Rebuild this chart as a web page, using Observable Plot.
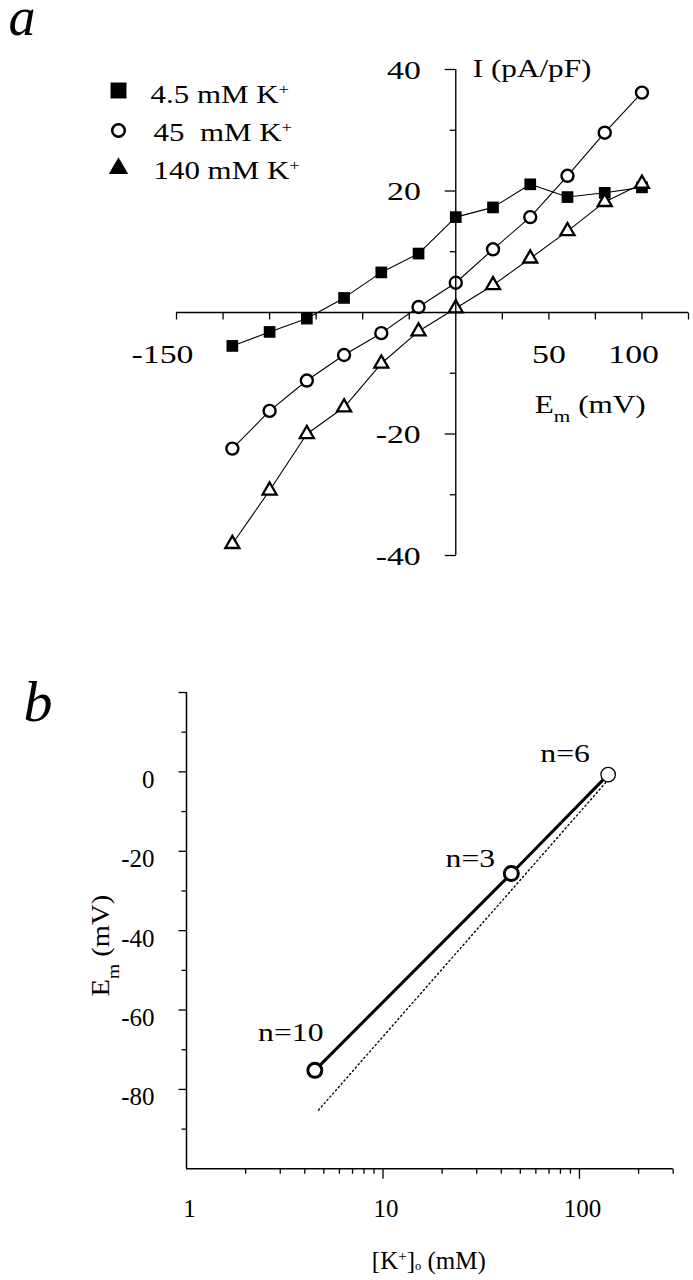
<!DOCTYPE html>
<html>
<head>
<meta charset="utf-8">
<script src="https://cdn.jsdelivr.net/npm/d3@7"></script>
<script src="https://cdn.jsdelivr.net/npm/@observablehq/plot@0.6"></script>
<style>
  html, body { margin: 0; padding: 0; background: #fff; }
  #wrap { position: relative; width: 693px; height: 1280px; overflow: hidden; background: #fff; }
  #wrap svg { position: absolute; left: 0; }
</style>
</head>
<body>
<div id="wrap"></div>
<script>
// ---------- Panel a data: I–V relations ----------
const membranePotential = [-120, -100, -80, -60, -40, -20, 0, 20, 40, 60, 80, 100];
const current4_5mM = [-5.5, -3.2, -1.0, 2.4, 6.6, 9.7, 15.7, 17.3, 21.1, 19.0, 19.7, 20.6];
const current45mM  = [-22.4, -16.2, -11.2, -7.0, -3.4, 0.9, 4.9, 10.4, 15.7, 22.5, 29.6, 36.2];
const current140mM = [-38.1, -29.3, -20.0, -15.6, -8.4, -3.1, 0.7, 4.5, 8.9, 13.4, 18.2, 21.2];
const seriesLabels = ["4.5 mM K^{+}", "45  mM K^{+}", "140 mM K^{+}"];
const xTicksA = [-150, -125, -100, -75, -50, -25, 25, 50, 75, 100, 125];
const xTickLabelsA = [-150, 50, 100];
const yMajorA = [-40, -20, 20, 40];
const yMinorA = [-30, -10, 10, 30];
const yTickLabelsA = [40, 20, -20, -40];
const xTitleA = "E_{m} (mV)";
const yTitleA = "I (pA/pF)";

// ---------- Panel b data: reversal potential vs [K+]o ----------
const kConc = [4.5, 45, 140];
const reversalEm = [-75.2, -25.6, -0.7];
const nCells = [10, 3, 6];
const nernstK = [4.7, 144];
const nernstEm = [-85.2, -1.3];
const xMajorB = [10, 100];
const xMinorB = [2, 3, 4, 5, 6, 7, 8, 9, 20, 30, 40, 50, 60, 70, 80, 90, 200, 300];
const xTickLabelsB = [1, 10, 100];
const yMajorB = [-80, -60, -40, -20, 0, 20];
const yMinorB = [-90, -70, -50, -30, -10, 10];
const yTickLabelsB = [0, -20, -40, -60, -80];
const xTitleB = "[K^{+}]~{o} (mM)";
const yTitleB = "E_{m} (mV)";

// ---------- helpers ----------
const FONT = "'Liberation Serif', 'Times New Roman', 'DejaVu Serif', serif";
const tickDown = len => ({draw(ctx) { ctx.moveTo(0, 0); ctx.lineTo(0, len); }});
const tickLeft = len => ({draw(ctx) { ctx.moveTo(0, 0); ctx.lineTo(-len, 0); }});

// horizontal stretch of texts (reference type is set wide), chosen by content
function stretch(svg, strings, sx) {
  const set = new Set(strings.map(String));
  svg.querySelectorAll("text").forEach(t => {
    if (!set.has(t.textContent)) return;
    const tr = t.getAttribute("transform") || "";
    t.setAttribute("transform", tr + ` scale(${sx},1)`);
  });
}
// ^{..} superscript, _{..} subscript, ~{..} small low subscript
function richText(svg) {
  svg.querySelectorAll("text").forEach(el => {
    const s = el.textContent;
    if (!/[\^_~]\{/.test(s)) return;
    el.textContent = "";
    const re = /([\^_~])\{([^}]*)\}/g;
    let last = 0, m;
    const add = (t, kind) => {
      const ts = document.createElementNS("http://www.w3.org/2000/svg", "tspan");
      ts.textContent = t;
      if (kind === "^") { ts.setAttribute("baseline-shift", "super"); ts.setAttribute("font-size", "60%"); }
      if (kind === "_") { ts.setAttribute("baseline-shift", "sub"); ts.setAttribute("font-size", "68%"); }
      if (kind === "~") { ts.setAttribute("baseline-shift", "-10%"); ts.setAttribute("font-size", "50%"); }
      el.appendChild(ts);
    };
    while ((m = re.exec(s))) {
      if (m.index > last) add(s.slice(last, m.index));
      add(m[2], m[1]);
      last = re.lastIndex;
    }
    if (last < s.length) add(s.slice(last));
  });
}

// ---------- Panel a ----------
const seriesValues = [current4_5mM, current45mM, current140mM];
const rowsA = seriesValues.flatMap((vals, s) =>
  membranePotential.map((em, i) => ({em, cur: vals[i], s})));

const plotA = Plot.plot({
  width: 693, height: 620,
  marginLeft: 176, marginRight: 5, marginTop: 69, marginBottom: 65,
  x: {domain: [-150, 125], axis: null},
  y: {domain: [-40, 40], axis: null},
  style: {fontFamily: FONT, background: "white", color: "black", overflow: "visible"},
  marks: [
    Plot.line(rowsA, {x: "em", y: "cur", z: "s", stroke: "black", strokeWidth: 1.1}),
    Plot.dot(rowsA.filter(d => d.s === 0), {x: "em", y: "cur", symbol: "square", r: 6.6, fill: "black", stroke: "none"}),
    Plot.dot(rowsA.filter(d => d.s === 1), {x: "em", y: "cur", symbol: "circle", r: 6, fill: "white", stroke: "black", strokeWidth: 2.4}),
    Plot.dot(rowsA.filter(d => d.s === 2), {x: "em", y: "cur", symbol: "triangle", r: 5.2, fill: "white", stroke: "black", strokeWidth: 2.3}),
    // axes crossing at origin
    Plot.ruleY([0], {stroke: "black", strokeWidth: 1.4}),
    Plot.ruleX([0], {stroke: "black", strokeWidth: 1.4}),
    Plot.dot(xTicksA, {x: d => d, y: () => 0, symbol: tickDown(7), fill: "none", stroke: "black", strokeWidth: 1.3}),
    Plot.dot(yMajorA, {x: () => 0, y: d => d, symbol: tickLeft(11), fill: "none", stroke: "black", strokeWidth: 1.3}),
    Plot.dot(yMinorA, {x: () => 0, y: d => d, symbol: tickLeft(6), fill: "none", stroke: "black", strokeWidth: 1.3}),
    Plot.text(xTickLabelsA, {x: d => d, y: () => 0, text: d => String(d), textAnchor: "end", lineAnchor: "middle", dx: 17, dy: 42, fontSize: 26}),
    Plot.text(yTickLabelsA, {x: () => 0, y: d => d, text: d => String(d), textAnchor: "end", lineAnchor: "middle", dx: -35, dy: 1, fontSize: 26}),
    Plot.text([yTitleA], {x: () => 0, y: () => 40, text: d => d, textAnchor: "start", lineAnchor: "bottom", dx: 17, dy: 7, fontSize: 26}),
    Plot.text([xTitleA], {x: () => 0, y: () => 0, text: d => d, textAnchor: "start", lineAnchor: "bottom", dx: 79, dy: 100, fontSize: 26}),
    // legend
    Plot.dot([0], {frameAnchor: "top-left", dx: -58, dy: 21, symbol: "square", r: 9, fill: "black", stroke: "none"}),
    Plot.dot([0], {frameAnchor: "top-left", dx: -58, dy: 61, symbol: "circle", r: 6.3, fill: "white", stroke: "black", strokeWidth: 2.5}),
    Plot.dot([0], {frameAnchor: "top-left", dx: -58, dy: 99, symbol: "triangle", r: 7.2, fill: "black", stroke: "none"}),
    Plot.text([seriesLabels[0]], {frameAnchor: "top-left", text: d => d, textAnchor: "start", lineAnchor: "bottom", dx: -26, dy: 33, fontSize: 26}),
    Plot.text([seriesLabels[1]], {frameAnchor: "top-left", text: d => d, textAnchor: "start", lineAnchor: "bottom", dx: -23, dy: 71, fontSize: 26}),
    Plot.text([seriesLabels[2]], {frameAnchor: "top-left", text: d => d, textAnchor: "start", lineAnchor: "bottom", dx: -23, dy: 109, fontSize: 26}),
    // panel letter
    Plot.text(["a"], {frameAnchor: "top-left", text: d => d, textAnchor: "start", lineAnchor: "bottom", dx: -168, dy: -35, fontSize: 54, fontStyle: "italic"})
  ]
});
stretch(plotA, [...xTickLabelsA, ...yTickLabelsA], 1.3);
stretch(plotA, [xTitleA, yTitleA], 1.2);
stretch(plotA, seriesLabels, 1.19);
richText(plotA);
plotA.style.top = "0px";

// ---------- Panel b ----------
const pointsB = kConc.map((k, i) => ({k, em: reversalEm[i], n: nCells[i]}));
const nernstRows = nernstK.map((k, i) => ({k, em: nernstEm[i]}));

const plotB = Plot.plot({
  width: 693, height: 660,
  marginLeft: 186, marginRight: 20.3, marginTop: 72, marginBottom: 111.7,
  x: {type: "log", domain: [1, 300], axis: null},
  y: {domain: [-100, 20], axis: null},
  style: {fontFamily: FONT, background: "white", color: "black", overflow: "visible"},
  marks: [
    Plot.line(nernstRows, {x: "k", y: "em", stroke: "black", strokeWidth: 1.4, strokeDasharray: "1.3,3"}),
    Plot.line(pointsB, {x: "k", y: "em", stroke: "black", strokeWidth: 3}),
    Plot.dot(pointsB.filter(d => d.n !== 6), {x: "k", y: "em", r: 7, fill: "white", stroke: "black", strokeWidth: 3}),
    Plot.dot(pointsB.filter(d => d.n === 6), {x: "k", y: "em", r: 7.2, fill: "white", stroke: "black", strokeWidth: 1.3}),
    Plot.text(pointsB.filter(d => d.n === 10), {x: "k", y: "em", text: d => "n=" + d.n, textAnchor: "middle", lineAnchor: "middle", dx: -24, dy: -38, fontSize: 26}),
    Plot.text(pointsB.filter(d => d.n === 3), {x: "k", y: "em", text: d => "n=" + d.n, textAnchor: "middle", lineAnchor: "middle", dx: -41, dy: -15, fontSize: 26}),
    Plot.text(pointsB.filter(d => d.n === 6), {x: "k", y: "em", text: d => "n=" + d.n, textAnchor: "middle", lineAnchor: "middle", dx: -43, dy: -21, fontSize: 26}),
    // frame axes
    Plot.ruleX([1], {stroke: "black", strokeWidth: 1.5}),
    Plot.ruleY([-100], {stroke: "black", strokeWidth: 1.5}),
    Plot.dot(yMajorB, {x: () => 1, y: d => d, symbol: tickLeft(8), fill: "none", stroke: "black", strokeWidth: 1.3}),
    Plot.dot(yMinorB, {x: () => 1, y: d => d, symbol: tickLeft(5), fill: "none", stroke: "black", strokeWidth: 1.3}),
    Plot.dot(xMajorB, {x: d => d, y: () => -100, symbol: tickDown(10), fill: "none", stroke: "black", strokeWidth: 1.3}),
    Plot.dot(xMinorB, {x: d => d, y: () => -100, symbol: tickDown(5), fill: "none", stroke: "black", strokeWidth: 1.3}),
    Plot.text(yTickLabelsB, {x: () => 1, y: d => d, text: d => String(d), textAnchor: "end", lineAnchor: "middle", dx: -32, dy: 8, fontSize: 25}),
    Plot.text(xTickLabelsB, {x: d => d, y: () => -100, text: d => String(d), textAnchor: "middle", lineAnchor: "middle", dx: 3, dy: 40, fontSize: 25}),
    Plot.text([xTitleB], {frameAnchor: "bottom", text: d => d, textAnchor: "middle", lineAnchor: "bottom", dx: -1, dy: 100, fontSize: 25}),
    Plot.text([yTitleB], {frameAnchor: "left", text: d => d, textAnchor: "middle", lineAnchor: "middle", rotate: -90, dx: -86, dy: 15, fontSize: 26}),
    Plot.text(["b"], {frameAnchor: "top-left", text: d => d, textAnchor: "start", lineAnchor: "bottom", dx: -163, dy: 28, fontSize: 58, fontStyle: "italic"})
  ]
});
stretch(plotB, nCells.map(n => "n=" + n), 1.22);
stretch(plotB, [yTitleB], 1.1);
richText(plotB);
plotB.style.top = "620px";

const wrap = document.getElementById("wrap");
wrap.appendChild(plotA);
wrap.appendChild(plotB);
</script>
</body>
</html>
